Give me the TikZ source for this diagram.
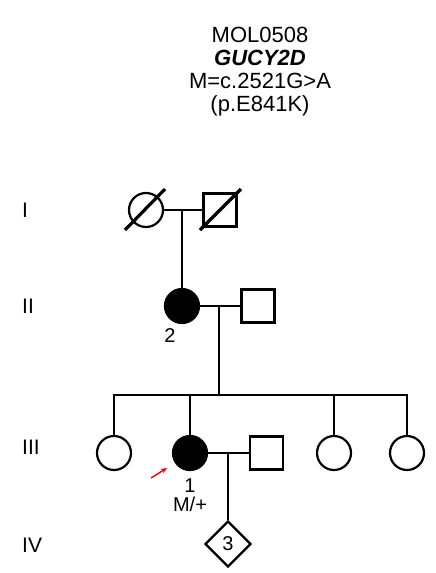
\documentclass[tikz,border=0pt]{standalone}
\usepackage{fontspec}
\setmainfont{Liberation Sans}
\usetikzlibrary{shapes.geometric,arrows.meta}
\begin{document}
\begin{tikzpicture}[x=1pt,y=-1pt,
  ind/.style={draw,line width=2.2pt,inner sep=0pt,minimum size=34pt},
  fem/.style={ind,circle},
  mal/.style={ind,rectangle,minimum size=33pt},
  aff/.style={fill=black},
  unk/.style={ind,diamond,minimum size=46pt,font=\fontsize{20}{22}\selectfont},
  rel/.style={line width=2.8pt},
  dec/.style={line width=3.2pt},
  lbl/.style={inner sep=0pt,anchor=base,font=\fontsize{20}{22}\selectfont},
  gen/.style={inner sep=0pt,anchor=base west,font=\fontsize{21}{23}\selectfont},
  hdr/.style={inner sep=0pt,anchor=base,font=\fontsize{22}{23}\selectfont}]
\useasboundingbox (0,0) rectangle (436,573);
% header
\node[hdr] (h1) at (260,42) {MOL0508};
\node[hdr] (h2) at (260,65) {\textbf{\textit{GUCY2D}}};
\node[hdr] (h3) at (260,88) {M=c.2521G>A};
\node[hdr] (h4) at (260,111) {(p.E841K)};
% generation labels
\node[gen] (gI) at (22,217) {I};
\node[gen] (gII) at (22,313) {II};
\node[gen] (gIII) at (22,454) {III};
\node[gen] (gIV) at (22,552) {IV};
% generation I
\node[fem] (f1) at (146,210) {};
\node[mal] (m1) at (220,210) {};
\draw[dec] ([shift={(-21,20)}]f1.center) -- ([shift={(19,-21)}]f1.center);
\draw[dec] ([shift={(-20,20)}]m1.center) -- ([shift={(21,-21)}]m1.center);
\coordinate (c1) at (182,210);
\draw[rel] (f1) -- (m1);
% generation II
\node[fem,aff] (f2) at (182,306) {};
\node[mal] (m2) at (258,306) {};
\node[lbl] (l2) at (170,342) {2};
\draw[rel] (c1) -- (f2);
\draw[rel] (f2) -- (m2);
\coordinate (c2) at (219,306);
\coordinate (s0) at (219,395);
\draw[rel] (c2) -- (s0);
% sibship
\coordinate (sa) at (114,395);
\coordinate (sb) at (190,395);
\coordinate (sd) at (334,395);
\coordinate (se) at (407,395);
\draw[rel,line cap=rect] (sa) -- (se);
% generation III
\node[fem] (a) at (114,453) {};
\node[fem,aff] (b) at (190,453) {};
\node[mal] (m3) at (266.5,453) {};
\node[fem] (d) at (334,453) {};
\node[fem] (e) at (407,453) {};
\draw[rel] (sa) -- (a);
\draw[rel] (sb) -- (b);
\draw[rel] (sd) -- (d);
\draw[rel] (se) -- (e);
\draw[rel] (b) -- (m3);
\node[lbl] (l1) at (190,492) {1};
\node[lbl] (lm) at (190,511) {M/+};
\coordinate (pa) at (151,478);
\coordinate (pb) at (167,468);
\draw[red,line width=1.4pt,-{Stealth[length=6pt,width=5pt]}] (pa) -- (pb);
% generation IV
\coordinate (c3) at (228,453);
\node[unk] (k) at (228,544) {3};
\draw[rel] (c3) -- (k);
\end{tikzpicture}
\end{document}
